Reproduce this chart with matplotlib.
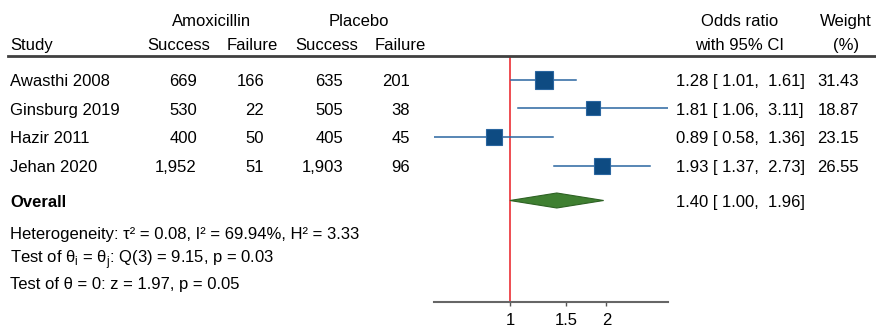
import numpy as np
import matplotlib
matplotlib.use("Agg")
import matplotlib.pyplot as plt
from matplotlib.transforms import blended_transform_factory

plt.rcParams['font.family'] = ['Liberation Sans', 'DejaVu Sans']
plt.rcParams['font.size'] = 12

# data
studies = ['Awasthi 2008', 'Ginsburg 2019', 'Hazir 2011', 'Jehan 2020']
amox_success = [669, 530, 400, 1952]
amox_failure = [166, 22, 50, 51]
plac_success = [635, 505, 405, 1903]
plac_failure = [201, 38, 45, 96]
odds = [1.28, 1.81, 0.89, 1.93]
ci_low = [1.01, 1.06, 0.58, 1.37]
ci_high = [1.61, 3.11, 1.36, 2.73]
weights = [31.43, 18.87, 23.15, 26.55]
overall = (1.40, 1.00, 1.96)
het_text = 'Heterogeneity: τ² = 0.08, I² = 69.94%, H² = 3.33'
q_text = r'Test of θ$_\mathregular{i}$ = θ$_\mathregular{j}$: Q(3) = 9.15, p = 0.03'
z_text = 'Test of θ = 0: z = 1.97, p = 0.05'
xticks = [1, 1.5, 2]
xticklabels = ['1', '1.5', '2']

W, H = 876, 329
fig = plt.figure(figsize=(W / 100, H / 100), dpi=100)

# forest axes, y in pixel rows (top = header line, bottom = axis line)
ax = fig.add_axes([434 / W, (H - 302) / H, (668 - 434) / W, (302 - 56) / H])
ax.set_xscale('log')
ax.set_xlim(min(ci_low), max(ci_high))
ax.set_ylim(302, 56)
for s in ['top', 'left', 'right']:
    ax.spines[s].set_visible(False)
ax.spines['bottom'].set_color('#666666')
ax.spines['bottom'].set_linewidth(1.5)
ax.set_yticks([])
ax.xaxis.set_minor_locator(matplotlib.ticker.NullLocator())
ax.set_xticks(xticks)
ax.set_xticklabels(xticklabels)
ax.tick_params(axis='x', length=3, width=1, color='#555555', pad=5, labelsize=12)

row_y = [80, 108.5, 137, 166]
overall_y = 200.5

ax.axvline(1, color='#ee4d52', lw=1.4, zorder=1)

for i in range(len(studies)):
    ax.plot([ci_low[i], ci_high[i]], [row_y[i], row_y[i]], color='#2a66a0', lw=1.1, zorder=2)
    ax.plot(odds[i], row_y[i], marker='s', markersize=2.35 * np.sqrt(weights[i]),
            markerfacecolor='#0e4b82', markeredgecolor='#2a66a0', markeredgewidth=0.8, zorder=3)

o, lo, hi = overall
ax.fill([lo, o, hi, o], [overall_y, overall_y - 7.5, overall_y, overall_y + 7.5],
        facecolor='#3f7f31', edgecolor='#2e6224', lw=0.8, zorder=3)

# text columns
tr = blended_transform_factory(fig.transFigure, ax.transData)

def txt(px, y, s, ha='left', **kw):
    ax.text(px / W, y, s, transform=tr, ha=ha, va='baseline', clip_on=False, **kw)

# header line
ax.plot([8 / W, 1], [56, 56], transform=tr, color='#404040', lw=2, clip_on=False)

txt(212, 26, 'Amoxicillin', ha='center')
txt(359, 26, 'Placebo', ha='center')
txt(740, 26, 'Odds ratio', ha='center')
txt(846, 26, 'Weight', ha='center')
txt(10, 50, 'Study')
txt(179, 50, 'Success', ha='center')
txt(252, 50, 'Failure', ha='center')
txt(327, 50, 'Success', ha='center')
txt(400, 50, 'Failure', ha='center')
txt(740, 50, 'with 95% CI', ha='center')
txt(846, 50, '(%)', ha='center')

for i in range(len(studies)):
    y = row_y[i] + 6.5
    txt(10, y, studies[i])
    txt(197, y, f'{amox_success[i]:,}', ha='right')
    txt(264, y, f'{amox_failure[i]:,}', ha='right')
    txt(343, y, f'{plac_success[i]:,}', ha='right')
    txt(410, y, f'{plac_failure[i]:,}', ha='right')
    txt(676, y, f'{odds[i]:.2f} [{ci_low[i]:5.2f}, {ci_high[i]:5.2f}]')
    txt(859, y, f'{weights[i]:.2f}', ha='right')

txt(10, 207, 'Overall', fontweight='bold')
txt(676, 207, f'{o:.2f} [{lo:5.2f}, {hi:5.2f}]')
txt(10, 239, het_text)
txt(10, 263, q_text)
txt(10, 289, z_text)

fig.savefig('out.png', dpi=100)
